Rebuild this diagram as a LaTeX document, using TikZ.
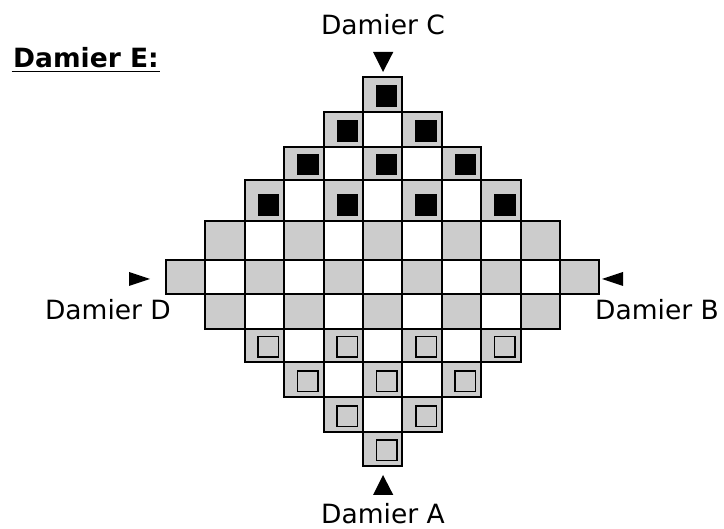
\documentclass[tikz,border=0pt]{standalone}
\usepackage{fontspec}
\setmainfont{DejaVu Sans}
\definecolor{cellgray}{RGB}{204,204,204}

\tikzset{
  darkcell/.style={fill=cellgray, draw=black, line width=2pt},
  lightcell/.style={fill=white, draw=black, line width=2pt},
  blackpiece/.style={fill=black},
  hollowpiece/.style={fill=cellgray, draw=black, line width=1.5pt},
  marker/.style={fill=black},
  label/.style={inner sep=0pt, font=\fontsize{26.5}{30}\selectfont}
}

\begin{document}
\begin{tikzpicture}[x=1pt, y=-1pt]
\useasboundingbox (0,0) rectangle (724,529);
% the board, row by row
\foreach \r/\ya/\yb in {0/77/112, 1/112/147, 2/147/180.5, 3/180.5/221,
    4/221/260, 5/260/294.5, 6/294.5/329, 7/329/362.5, 8/362.5/397,
    9/397/432, 10/432/466} {
  \pgfmathtruncatemacro\cmin{abs(\r-5)}
  \pgfmathtruncatemacro\cmax{10-abs(\r-5)}
  \foreach \c in {\cmin,...,\cmax} {
    \pgfmathsetmacro\xa{166+39.4*\c}
    \pgfmathsetmacro\xb{\xa+39.4}
    \pgfmathtruncatemacro\odd{mod(\r+\c,2)}
    \ifnum\odd=1
      \filldraw[darkcell] (\xa,\ya) rectangle (\xb,\yb);
      \ifnum\r<4
        \fill[blackpiece] (\xb-26.5,\yb-26.5) rectangle (\xb-5,\yb-5);
      \fi
      \ifnum\r>6
        \filldraw[hollowpiece] (\xb-26,\yb-26) rectangle (\xb-5.5,\yb-5.5);
      \fi
    \else
      \filldraw[lightcell] (\xa,\ya) rectangle (\xb,\yb);
    \fi
  }
}
% title and labels
\node[label, anchor=base west] (title) at (13,68) {\bfseries Damier E:};
\draw[line width=1.5pt] ([xshift=-1.3pt,yshift=-3.7pt]title.base west) -- ([xshift=1.3pt,yshift=-3.7pt]title.base east);
\node[label, anchor=base] (damC) at (383,35) {Damier C};
\node[label, anchor=base] (damD) at (108,320) {Damier D};
\node[label, anchor=base] (damB) at (657,320) {Damier B};
\node[label, anchor=base] (damA) at (383,524) {Damier A};
% entry markers
\fill[marker] (373,52) -- (393.3,52) -- (383,72) -- cycle;
\fill[marker] (129,272) -- (129,286) -- (150,279) -- cycle;
\fill[marker] (623,272) -- (623,286) -- (602,279) -- cycle;
\fill[marker] (373,495) -- (393.3,495) -- (383,475) -- cycle;
\end{tikzpicture}
\end{document}
